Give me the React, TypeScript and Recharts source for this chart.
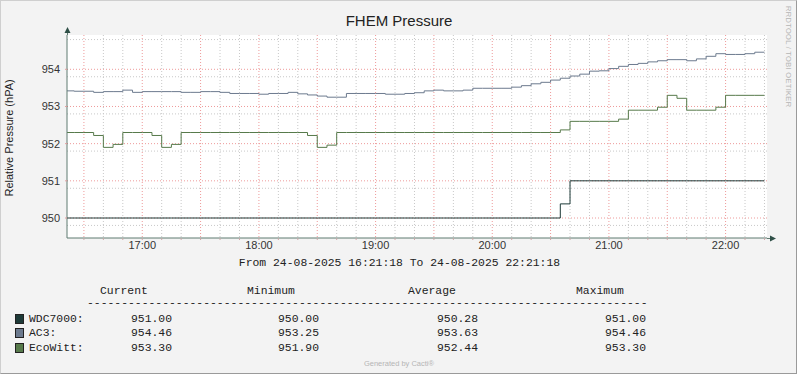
import { CartesianGrid, Line, LineChart, XAxis, YAxis } from 'recharts';

// minutes after 16:00, one RRD step every 5 minutes
const minutes = [
  20, 25, 30, 35, 40, 45, 50, 55, 60, 65, 70, 75,
  80, 85, 90, 95, 100, 105, 110, 115, 120, 125, 130, 135,
  140, 145, 150, 155, 160, 165, 170, 175, 180, 185, 190, 195,
  200, 205, 210, 215, 220, 225, 230, 235, 240, 245, 250, 255,
  260, 265, 270, 275, 280, 285, 290, 295, 300, 305, 310, 315,
  320, 325, 330, 335, 340, 345, 350, 355, 360, 365, 370, 375,
  380
];

const wdc7000 = [
  950, 950, 950, 950, 950, 950, 950, 950, 950, 950, 950, 950,
  950, 950, 950, 950, 950, 950, 950, 950, 950, 950, 950, 950,
  950, 950, 950, 950, 950, 950, 950, 950, 950, 950, 950, 950,
  950, 950, 950, 950, 950, 950, 950, 950, 950, 950, 950, 950,
  950, 950, 950, 950.38, 951, 951, 951, 951, 951, 951, 951, 951,
  951, 951, 951, 951, 951, 951, 951, 951, 951, 951, 951, 951,
  951
];

const ac3 = [
  953.42, 953.41, 953.41, 953.38, 953.4, 953.4, 953.44, 953.38, 953.4, 953.4, 953.4, 953.4,
  953.38, 953.38, 953.4, 953.4, 953.38, 953.35, 953.35, 953.35, 953.33, 953.35, 953.35, 953.38,
  953.34, 953.31, 953.28, 953.25, 953.25, 953.35, 953.35, 953.35, 953.35, 953.33, 953.33, 953.35,
  953.37, 953.42, 953.44, 953.42, 953.42, 953.44, 953.49, 953.49, 953.49, 953.49, 953.52, 953.56,
  953.61, 953.65, 953.71, 953.76, 953.82, 953.87, 953.95, 953.96, 954.02, 954.08, 954.13, 954.16,
  954.2, 954.23, 954.26, 954.26, 954.23, 954.28, 954.35, 954.42, 954.4, 954.4, 954.42, 954.46,
  954.46
];

const ecoWitt = [
  952.3, 952.3, 952.3, 952.22, 951.9, 951.98, 952.3, 952.3, 952.3, 952.22, 951.9, 951.98,
  952.3, 952.3, 952.3, 952.3, 952.3, 952.3, 952.3, 952.3, 952.3, 952.3, 952.3, 952.3,
  952.3, 952.22, 951.9, 951.96, 952.3, 952.3, 952.3, 952.3, 952.3, 952.3, 952.3, 952.3,
  952.3, 952.3, 952.3, 952.3, 952.3, 952.3, 952.3, 952.3, 952.3, 952.3, 952.3, 952.3,
  952.3, 952.3, 952.3, 952.37, 952.6, 952.6, 952.6, 952.6, 952.6, 952.66, 952.9, 952.9,
  952.9, 952.98, 953.3, 953.22, 952.9, 952.9, 952.9, 952.98, 953.3, 953.3, 953.3, 953.3,
  953.3
];

const yTicks = [950, 951, 952, 953, 954];
const hourTicks = [60, 120, 180, 240, 300, 360];
const hourLabels = ['17:00', '18:00', '19:00', '20:00', '21:00', '22:00'];

const legendRows = [
  { name: 'WDC7000:', color: '#1d3a38', current: '951.00', min: '950.00', avg: '950.28', max: '951.00' },
  { name: 'AC3:', color: '#6c7a8e', current: '954.46', min: '953.25', avg: '953.63', max: '954.46' },
  { name: 'EcoWitt:', color: '#577a4b', current: '953.30', min: '951.90', avg: '952.44', max: '953.30' }
];

const data = minutes.map((t, i) => ({ t, wdc: wdc7000[i], ac3: ac3[i], eco: ecoWitt[i] }));

// grid positions
const minorY: number[] = [];
for (let v = 949.6; v < 954.95; v += 0.2) {
  const r = Math.round(v * 10) / 10;
  if (Math.abs(r - Math.round(r)) > 0.01) minorY.push(r);
}
const allX: number[] = [];
for (let m = 30; m <= 380; m += 10) allX.push(m);
const minorX = allX.filter((m) => m % 30 !== 0);
const majorX = allX.filter((m) => m % 30 === 0);

const mono = '"Liberation Mono", "DejaVu Sans Mono", monospace';
const sans = '"Liberation Sans", Arial, sans-serif';

const cellStyle = (left: number, top: number) => ({
  position: 'absolute' as const,
  left,
  top,
  fontFamily: mono,
  fontSize: 11.4,
  lineHeight: '14px',
  color: '#222',
  whiteSpace: 'pre' as const
});

export default function App() {
  return (
    <div
      style={{
        position: 'absolute',
        left: 0,
        top: 0,
        width: 797,
        height: 374,
        boxSizing: 'border-box',
        background: '#f3f3f3',
        borderTop: '1px solid #cfcfcf',
        borderLeft: '1px solid #cfcfcf',
        borderRight: '1px solid #9a9a9a',
        borderBottom: '1px solid #9a9a9a',
        overflow: 'hidden'
      }}
    >
      <div style={{ position: 'absolute', left: -1, top: -1 }}>
        <LineChart width={797} height={260} data={data} margin={{ top: 35, right: 30, bottom: 0, left: 0 }}>
          <CartesianGrid
            horizontalValues={minorY}
            verticalValues={minorX}
            stroke="#c8c8c8"
            strokeDasharray="1 2"
            fill="#ffffff"
            fillOpacity={1}
          />
          <CartesianGrid horizontalValues={yTicks} verticalValues={majorX} stroke="#ee9a9a" strokeDasharray="1 2" />
          <XAxis
            type="number"
            dataKey="t"
            domain={[21.3, 381.3]}
            allowDataOverflow
            ticks={allX}
            interval={0}
            tickFormatter={(v: number) => hourLabels[hourTicks.indexOf(v)] ?? ''}
            height={22}
            axisLine={{ stroke: '#5f7a70' }}
            tickLine={{ stroke: '#c9a8a8' }}
            tickSize={2}
            tickMargin={1}
            tick={{ fontFamily: sans, fontSize: 11, fill: '#333' }}
          />
          <YAxis
            type="number"
            domain={[949.462, 954.923]}
            allowDataOverflow
            ticks={yTicks}
            width={67}
            axisLine={{ stroke: '#5f7a70' }}
            tickLine={{ stroke: '#e0a0a0' }}
            tickSize={2}
            tickMargin={5}
            tick={{ fontFamily: sans, fontSize: 11, fill: '#333' }}
            label={{
              value: 'Relative Pressure (hPA)',
              angle: -90,
              position: 'insideLeft',
              dx: 4,
              dy: 60,
              style: { fontFamily: sans, fontSize: 11, fill: '#222' }
            }}
          />
          <Line type="stepAfter" dataKey="wdc" stroke="#1d3a38" strokeWidth={1} dot={false} isAnimationActive={false} />
          <Line type="stepAfter" dataKey="ac3" stroke="#6c7a8e" strokeWidth={1} dot={false} isAnimationActive={false} />
          <Line type="stepAfter" dataKey="eco" stroke="#577a4b" strokeWidth={1} dot={false} isAnimationActive={false} />
        </LineChart>
      </div>

      <svg width={797} height={374} style={{ position: 'absolute', left: -1, top: -1, pointerEvents: 'none' }}>
        <line x1={67.5} y1={35} x2={67.5} y2={31} stroke="#5f7a70" />
        <polygon points="64.5,33 70.5,33 67.5,27" fill="#2f4f47" />
        <line x1={767} y1={238.5} x2={771} y2={238.5} stroke="#5f7a70" />
        <polygon points="770,235.5 770,241.5 776,238.5" fill="#2f4f47" />
        <text x={399} y={26} textAnchor="middle" fontFamily={sans} fontSize={15} fill="#222">
          FHEM Pressure
        </text>
        <text
          x={786}
          y={6}
          transform="rotate(90 786 6)"
          fontFamily={sans}
          fontSize={7.5}
          fill="#b5b5b5"
          letterSpacing={0.3}
        >
          RRDTOOL / TOBI OETIKER
        </text>
        <text x={399} y={366} textAnchor="middle" fontFamily={sans} fontSize={7.5} fill="#b5b5b5">
          Generated by Cacti®
        </text>
      </svg>

      <div style={{ ...cellStyle(0, 255), width: 797, textAlign: 'center' }}>
        From 24-08-2025 16:21:18 To 24-08-2025 22:21:18
      </div>
      <div style={cellStyle(99, 283)}>Current</div>
      <div style={cellStyle(246, 283)}>Minimum</div>
      <div style={cellStyle(407, 283)}>Average</div>
      <div style={cellStyle(575, 283)}>Maximum</div>
      <div style={cellStyle(86, 295)}>{'-'.repeat(82)}</div>
      {legendRows.map((r, i) => (
        <div key={r.name}>
          <div
            style={{
              position: 'absolute',
              left: 14,
              top: 313 + i * 14.3,
              width: 7,
              height: 8,
              background: r.color,
              border: '1px solid #222'
            }}
          />
          <div style={cellStyle(28, 311 + i * 14.3)}>{r.name}</div>
          <div style={cellStyle(130, 311 + i * 14.3)}>{r.current}</div>
          <div style={cellStyle(277, 311 + i * 14.3)}>{r.min}</div>
          <div style={cellStyle(436, 311 + i * 14.3)}>{r.avg}</div>
          <div style={cellStyle(604, 311 + i * 14.3)}>{r.max}</div>
        </div>
      ))}
    </div>
  );
}
